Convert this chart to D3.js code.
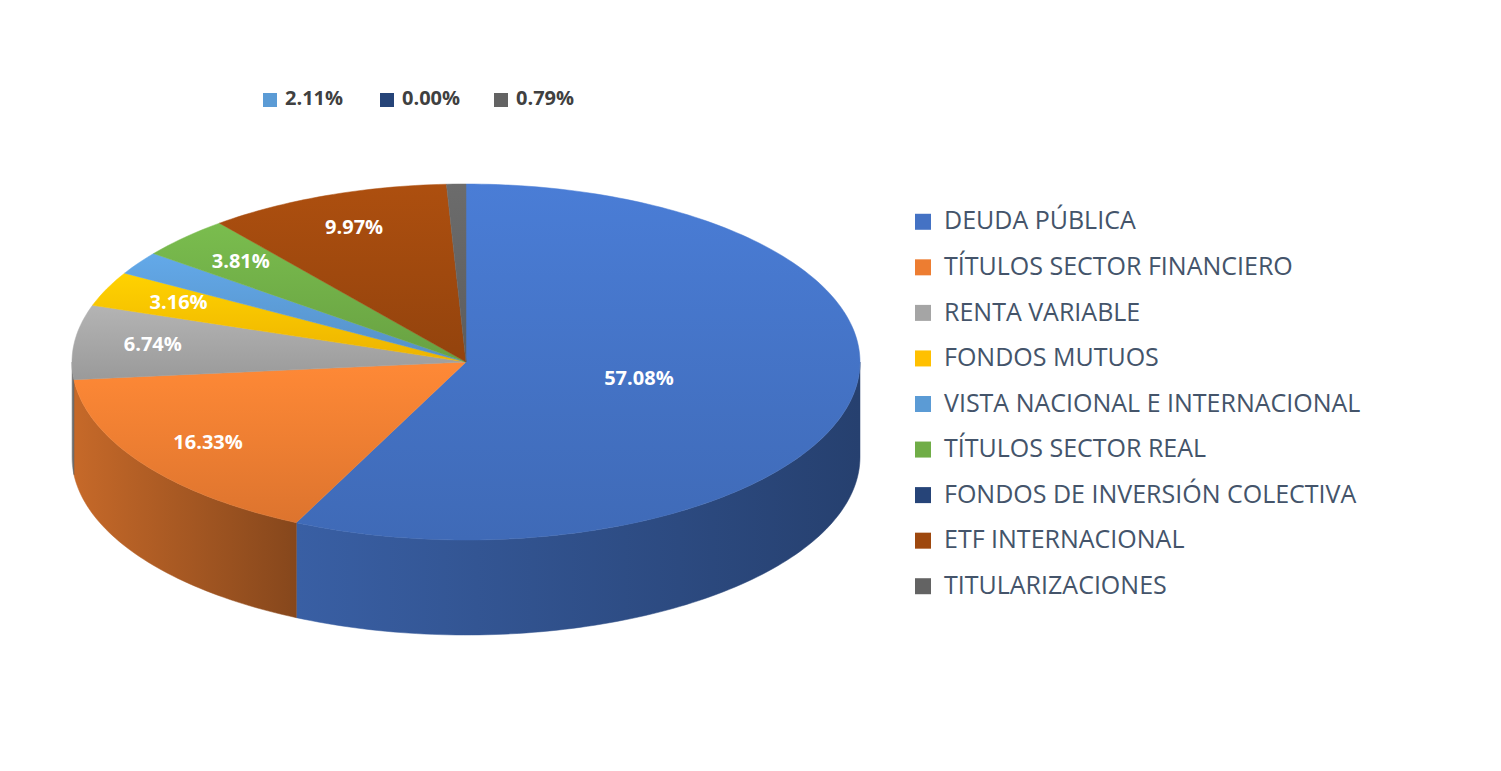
<!DOCTYPE html>
<html><head><meta charset="utf-8">
<script src="https://cdn.jsdelivr.net/npm/d3@7"></script>
<style>body{margin:0;background:#fff}</style>
</head><body>
<script>
var categories = ["DEUDA PÚBLICA","TÍTULOS SECTOR FINANCIERO","RENTA VARIABLE","FONDOS MUTUOS",
  "VISTA NACIONAL E INTERNACIONAL","TÍTULOS SECTOR REAL","FONDOS DE INVERSIÓN COLECTIVA",
  "ETF INTERNACIONAL","TITULARIZACIONES"];
var values = [57.08,16.33,6.74,3.16,2.11,3.81,0.00,9.97,0.79];
var colors = ["#4472C4","#ED7D31","#A5A5A5","#FFC000","#5B9BD5","#70AD47","#264478","#9E480E","#636363"];
var topLegend = [4,6,8]; // small slices shown in the top legend

var W = 1501, H = 771, cx = 466, cy = 362, rx = 394, ry = 178, depth = 95;
var svg = d3.select("body").append("svg").attr("width",W).attr("height",H);
var defs = svg.append("defs");

var pie = d3.pie().sort(null).value(function(d){return d;});
var arcs = pie(values);

function pt(a, dy){ return [cx + rx*Math.sin(a), cy - ry*Math.cos(a) + (dy||0)]; }
function arcPts(a0, a1, dy){
  var n = Math.max(2, Math.ceil((a1-a0)/0.02)), p = [];
  for (var i=0;i<=n;i++) p.push(pt(a0 + (a1-a0)*i/n, dy));
  return p;
}
var line = d3.line();

// side gradients
colors.forEach(function(c,i){
  var g = defs.append("linearGradient").attr("id","side"+i).attr("x1","0").attr("x2","1");
  g.append("stop").attr("offset","0").attr("stop-color", d3.color(c).darker(0.5));
  g.append("stop").attr("offset","1").attr("stop-color", d3.color(c).darker(1.6));
  var t = defs.append("linearGradient").attr("id","top"+i).attr("x1","0").attr("y1","0").attr("x2","0").attr("y2","1");
  t.append("stop").attr("offset","0").attr("stop-color", d3.color(c).brighter(0.25));
  t.append("stop").attr("offset","1").attr("stop-color", d3.color(c).darker(0.2));
});

// sides (visible between 90deg and 270deg)
arcs.forEach(function(d,i){
  var a0 = Math.max(d.startAngle, Math.PI/2), a1 = Math.min(d.endAngle, 3*Math.PI/2);
  if (a1 <= a0) return;
  var top = arcPts(a0,a1,0), bot = arcPts(a0,a1,depth).reverse();
  svg.append("path").attr("d", line(top.concat(bot)) + "Z")
    .attr("fill","url(#side"+i+")").attr("stroke","url(#side"+i+")").attr("stroke-width",0.5);
});

// top faces
arcs.forEach(function(d,i){
  if (d.endAngle - d.startAngle <= 0) return;
  var p = [[cx,cy]].concat(arcPts(d.startAngle,d.endAngle,0));
  svg.append("path").attr("d", line(p)+"Z").attr("fill","url(#top"+i+")")
    .attr("stroke","url(#top"+i+")").attr("stroke-width",0.5);
});

// labels
arcs.forEach(function(d,i){
  if (topLegend.indexOf(i) >= 0) return;
  var m = (d.startAngle+d.endAngle)/2, f = i===0 ? 0.45 : 0.8;
  svg.append("text").attr("x", cx + f*rx*Math.sin(m)).attr("y", cy - f*ry*Math.cos(m))
    .attr("text-anchor","middle").attr("dominant-baseline","middle")
    .attr("fill","#fff").attr("font-family","Open Sans, sans-serif").attr("font-weight","bold")
    .attr("font-size",20).text(values[i].toFixed(2)+"%");
});

// top legend
var tx = [263,380,494];
topLegend.forEach(function(k,j){
  svg.append("rect").attr("x",tx[j]).attr("y",93).attr("width",14).attr("height",14).attr("fill",colors[k]);
  svg.append("text").attr("x",tx[j]+22).attr("y",100).attr("dominant-baseline","middle")
    .attr("font-family","Open Sans, sans-serif").attr("font-weight","bold").attr("font-size",20)
    .attr("fill","#404040").text(values[k].toFixed(2)+"%");
});

// right legend
var ly = d3.scaleBand().domain(categories).range([199,609]);
categories.forEach(function(c,i){
  var y = ly(c) + ly.bandwidth()/2;
  svg.append("rect").attr("x",915).attr("y",y-8).attr("width",16).attr("height",16).attr("fill",colors[i]);
  svg.append("text").attr("x",944).attr("y",y+1).attr("dominant-baseline","middle")
    .attr("font-family","Open Sans, sans-serif").attr("font-size",25).attr("fill","#44546A").text(c);
});
</script>
</body></html>
